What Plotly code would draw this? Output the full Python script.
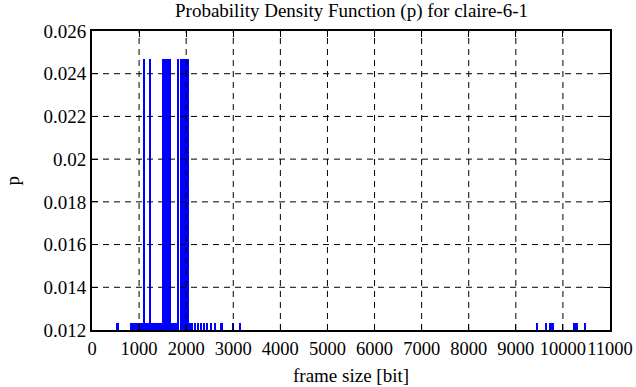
import plotly.graph_objects as go

# frame sizes (bit) with probability 1/81 (single occurrences)
low_sizes = [545, 840, 880, 920, 960, 1000, 1040, 1080, 1160, 1200, 1270, 1310,
             1350, 1390, 1430, 1470, 1700, 1740, 1780, 2090, 2130, 2195, 2250,
             2320, 2390, 2450, 2535, 2620, 2755, 3000, 3150,
             9450, 9640, 9740, 9790, 10250, 10310, 10470]
low_p = [0.012346] * len(low_sizes)

# frame sizes with probability 2/81
high_sizes = [1117, 1229, 1510, 1550, 1590, 1630, 1665, 1837, 1890, 1930, 1970,
              2010, 2050]
high_p = [0.024691] * len(high_sizes)

x_ticks = list(range(0, 12000, 1000))
y_ticks = [0.012, 0.014, 0.016, 0.018, 0.02, 0.022, 0.024, 0.026]
y_tick_labels = ["0.012", "0.014", "0.016", "0.018", "0.02", "0.022", "0.024", "0.026"]

font = "Liberation Serif"
fs = 19

fig = go.Figure()
fig.add_trace(go.Bar(x=low_sizes + high_sizes, y=low_p + high_p, width=36,
                     marker=dict(color="#0000ff", line=dict(width=0)),
                     showlegend=False, hoverinfo="skip"))

# dashed grid drawn above the bars
shapes = []
for v in x_ticks[1:-1]:
    shapes.append(dict(type="line", xref="x", yref="paper", x0=v, x1=v, y0=0, y1=1,
                       line=dict(color="black", width=1, dash="6px,5px"), layer="above"))
for v in y_ticks[1:-1]:
    shapes.append(dict(type="line", xref="paper", yref="y", x0=0, x1=1, y0=v, y1=v,
                       line=dict(color="black", width=1, dash="6px,5px"), layer="above"))

annotations = [
    dict(text="Probability Density Function (p) for claire-6-1", xref="paper", yref="paper",
         x=0.5, y=1, yshift=7, xanchor="center", yanchor="bottom", showarrow=False,
         font=dict(family=font, size=fs)),
    dict(text="frame size [bit]", xref="paper", yref="paper", x=0.5, y=0, yshift=-33,
         xanchor="center", yanchor="top", showarrow=False, font=dict(family=font, size=fs)),
    dict(text="p", xref="paper", yref="paper", x=0, xshift=-80, y=0.5,
         xanchor="center", yanchor="middle", textangle=-90, showarrow=False,
         font=dict(family=font, size=fs)),
]

fig.update_layout(
    width=636, height=387,
    margin=dict(l=92, r=26, t=31, b=57, autoexpand=False),
    paper_bgcolor="white", plot_bgcolor="white",
    font=dict(family=font, size=fs, color="black"),
    bargap=0,
    shapes=shapes,
    annotations=annotations,
)
fig.update_xaxes(range=[0, 11000], tickvals=x_ticks, ticktext=[str(v) for v in x_ticks],
                 showgrid=False, zeroline=False, showline=True, linecolor="black", linewidth=2,
                 mirror="ticks", ticks="inside", ticklen=6, tickcolor="black", tickwidth=1,
                 ticklabelstandoff=1, tickangle=0, tickfont=dict(size=18.5),
                 layer="above traces", automargin=False)
fig.update_yaxes(range=[0.012, 0.026], tickvals=y_ticks, ticktext=y_tick_labels,
                 showgrid=False, zeroline=False, showline=True, linecolor="black", linewidth=2,
                 mirror="ticks", ticks="inside", ticklen=6, tickcolor="black", tickwidth=1,
                 layer="above traces", automargin=False)

fig.write_html("out.html", config={"displayModeBar": False},
               post_script="document.body.style.margin='0';document.body.style.overflow='hidden';")
